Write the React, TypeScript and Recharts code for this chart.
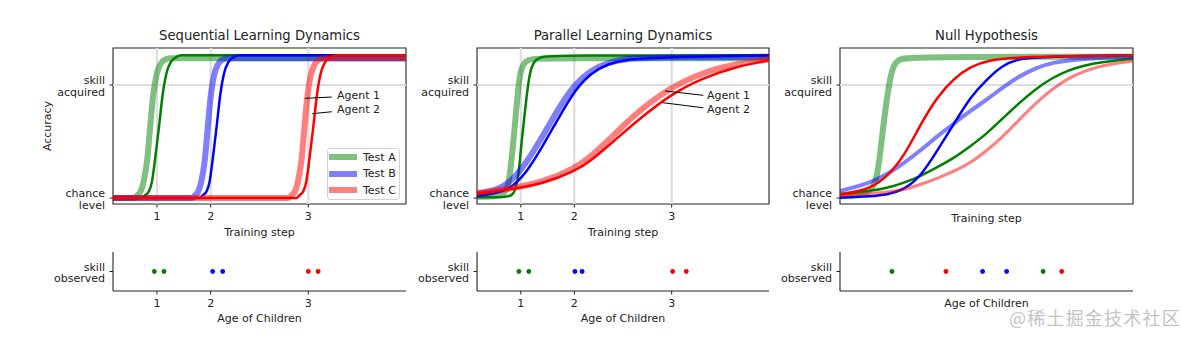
import React from 'react';
import { LineChart, Line, XAxis, YAxis, ReferenceLine, ReferenceArea, Legend, ScatterChart, Scatter } from 'recharts';

type Pt = [number, number];

// x runs over training steps 0..300, the age ticks sit at these steps
const stepTicks = [45, 100, 200];
const ageLabels = ['1', '2', '3'];
const accTicks = [0, 0.8];
const accLabels = [['chance', 'level'], ['skill', 'acquired']];
const obsLabels = ['skill', 'observed'];
const testNames = ['Test A', 'Test B', 'Test C'];

// Sequential learning (agent 1 = faded, agent 2 = solid)
const seqA1: Pt[] = [[0, 0], [22, 0], [25, 0.02], [28.5, 0.05], [31.5, 0.12], [35, 0.27], [38, 0.5], [41, 0.72], [44.5, 0.87], [48, 0.94], [52, 0.975], [58, 0.99], [300, 0.99]];
const seqA2: Pt[] = [[0, 0], [30, 0], [33, 0.02], [37, 0.05], [40, 0.12], [43, 0.27], [47, 0.5], [51, 0.74], [55, 0.89], [59, 0.96], [63, 0.99], [70, 1.01], [300, 1.01]];
const seqB1: Pt[] = [[0, 0], [81, 0], [84, 0.02], [87.5, 0.05], [90.5, 0.12], [94, 0.27], [97, 0.5], [100, 0.72], [103.5, 0.87], [107, 0.94], [111, 0.975], [117, 0.99], [300, 0.99]];
const seqB2: Pt[] = [[0, 0], [89, 0], [92, 0.02], [96, 0.05], [99, 0.12], [102, 0.27], [106, 0.5], [110, 0.74], [114, 0.89], [118, 0.96], [122, 0.99], [129, 1.01], [300, 1.01]];
const seqC1: Pt[] = [[0, 0], [180, 0], [183, 0.02], [186.5, 0.05], [189.5, 0.12], [193, 0.27], [196, 0.5], [199, 0.72], [202.5, 0.87], [206, 0.94], [210, 0.975], [216, 0.99], [300, 0.99]];
const seqC2: Pt[] = [[0, 0], [188, 0], [191, 0.02], [195, 0.05], [198, 0.12], [201, 0.27], [205, 0.5], [209, 0.74], [213, 0.89], [217, 0.96], [221, 0.99], [228, 1.01], [300, 1.01]];

// Parallel learning
const parA1: Pt[] = [[0, 0.01], [20, 0.01], [27, 0.03], [31, 0.06], [33, 0.13], [35, 0.24], [37, 0.37], [40, 0.6], [43, 0.83], [46, 0.93], [50, 0.97], [56, 0.985], [70, 0.99], [300, 0.99]];
const parA2: Pt[] = [[0, 0.005], [30, 0.005], [36, 0.02], [39, 0.05], [42, 0.13], [44, 0.26], [46, 0.41], [49, 0.6], [53, 0.84], [56, 0.93], [60, 0.98], [66, 1.0], [80, 1.01], [300, 1.01]];
const parB1: Pt[] = [[0, 0.03], [17, 0.05], [33, 0.1], [50, 0.24], [67, 0.43], [84, 0.64], [101, 0.81], [118, 0.91], [135, 0.96], [152, 0.985], [180, 0.995], [300, 1.0]];
const parB2: Pt[] = [[0, 0.014], [17, 0.03], [33, 0.06], [50, 0.17], [67, 0.36], [84, 0.57], [101, 0.77], [118, 0.89], [135, 0.95], [152, 0.98], [180, 0.995], [300, 1.01]];
const parC1: Pt[] = [[0, 0.035], [33, 0.065], [67, 0.11], [101, 0.21], [118, 0.3], [135, 0.41], [150, 0.51], [167, 0.62], [198, 0.78], [232, 0.89], [266, 0.95], [300, 0.98]];
const parC2: Pt[] = [[0, 0.035], [33, 0.06], [67, 0.1], [101, 0.19], [118, 0.27], [135, 0.37], [150, 0.46], [167, 0.56], [198, 0.73], [232, 0.85], [266, 0.93], [300, 0.975]];

// Null hypothesis
const nullA1: Pt[] = [[0, 0.02], [20, 0.03], [30, 0.05], [34, 0.08], [37, 0.13], [40, 0.25], [42, 0.37], [44, 0.49], [46, 0.6], [49, 0.75], [52, 0.87], [55, 0.94], [60, 0.98], [68, 1.0], [300, 1.0]];
const nullA2: Pt[] = [[0, 0.026], [25, 0.045], [49, 0.07], [66, 0.11], [83, 0.156], [100, 0.22], [117, 0.285], [134, 0.37], [151, 0.46], [166, 0.56], [183, 0.67], [200, 0.77], [217, 0.85], [234, 0.906], [251, 0.94], [268, 0.963], [300, 0.986]];
const nullB1: Pt[] = [[0, 0.05], [32, 0.11], [49, 0.17], [66, 0.25], [83, 0.34], [100, 0.44], [117, 0.53], [134, 0.62], [151, 0.7], [166, 0.78], [183, 0.86], [200, 0.92], [217, 0.96], [251, 0.99], [300, 1.0]];
const nullB2: Pt[] = [[0, 0.002], [32, 0.012], [49, 0.026], [66, 0.06], [83, 0.156], [100, 0.34], [117, 0.53], [134, 0.72], [149, 0.83], [166, 0.94], [183, 0.985], [200, 1.0], [300, 1.01]];
const nullC1: Pt[] = [[0, 0.02], [49, 0.04], [66, 0.06], [83, 0.097], [100, 0.14], [117, 0.19], [134, 0.25], [151, 0.34], [166, 0.43], [183, 0.55], [200, 0.67], [217, 0.77], [234, 0.85], [251, 0.9], [268, 0.94], [300, 0.97]];
const nullC2: Pt[] = [[0, 0.026], [16, 0.045], [32, 0.073], [49, 0.156], [66, 0.3], [83, 0.53], [100, 0.72], [117, 0.85], [134, 0.93], [151, 0.975], [183, 1.0], [300, 1.01]];

// age at which each skill is observed in children
const seqObsA = [42.3, 52.2];
const seqObsB = [102, 112.3];
const seqObsC = [200, 210];
const parObsA = [43, 53.2];
const parObsB = [100.6, 108];
const parObsC = [201, 215];
const nullObsA = [53.2, 208];
const nullObsB = [146, 170.6];
const nullObsC = [108.5, 227];

const GREEN = '#008000';
const BLUE = '#0000ff';
const RED = '#ff0000';
const INK = '#222';
const GRID = '#dedede';
const FONT = '"DejaVu Sans", sans-serif';
const X_DOMAIN: [number, number] = [0, 300];
const Y_DOMAIN: [number, number] = [-0.042, 1.062];
const AXW = 100;

const toXY = (pts: Pt[]) => pts.map(([x, y]) => ({ x, y }));

const faded = (pts: Pt[], color: string, width = 6) => ({ pts, color, width, opacity: 0.5 });
const solid = (pts: Pt[], color: string) => ({ pts, color, width: 2.5, opacity: 1 });

const seqSeries = [faded(seqA1, GREEN), solid(seqA2, GREEN), faded(seqB1, BLUE), solid(seqB2, BLUE), faded(seqC1, RED), solid(seqC2, RED)];
const parSeries = [faded(parA1, GREEN), solid(parA2, GREEN), faded(parB1, BLUE), solid(parB2, BLUE), faded(parC1, RED), solid(parC2, RED)];
const nullSeries = [faded(nullA1, GREEN), solid(nullA2, GREEN), faded(nullB1, BLUE, 4), solid(nullB2, BLUE), faded(nullC1, RED, 3), solid(nullC2, RED)];

const twoLineTick = (lines: (v: number) => string[]) => (p: any) => {
  const [a, b] = lines(p.payload.value);
  return (
    <text x={p.x} y={p.y} textAnchor="end" fontSize={11} fill={INK} fontFamily={FONT}>
      <tspan x={p.x} dy={-1}>{a}</tspan>
      <tspan x={p.x} dy={11.5}>{b}</tspan>
    </text>
  );
};
const accTick = twoLineTick((v) => accLabels[accTicks.indexOf(v)] || ['', '']);
const obsTick = twoLineTick(() => obsLabels);

const LegendBox = () => (
  <div style={{ width: 73, height: 52, border: '1px solid #d2d2d2', borderRadius: 3, background: 'rgba(255,255,255,0.85)', boxSizing: 'border-box', fontFamily: FONT, fontSize: 11, color: INK }}>
    {testNames.map((n, i) => (
      <div key={n} style={{ display: 'flex', alignItems: 'center', height: 16.5, paddingLeft: 1 }}>
        <svg width={28} height={8}>
          <line x1={0} y1={4} x2={28} y2={4} stroke={[GREEN, BLUE, RED][i]} strokeOpacity={0.5} strokeWidth={6} />
        </svg>
        <span style={{ marginLeft: 6 }}>{n}</span>
      </div>
    ))}
  </div>
);

type Seg = [number, number, number, number];

function CurvePanel(props: { boxLeft: number; boxWidth: number; series: any[]; ticks: boolean; labelOffset: number; curve: 'monotone' | 'basis'; segs?: Seg[]; legend?: boolean }) {
  const { boxLeft, boxWidth, series, ticks, labelOffset, curve, segs = [], legend } = props;
  return (
    <div style={{ position: 'absolute', left: boxLeft - AXW, top: 20 }}>
      <LineChart width={AXW + boxWidth + 6} height={224} margin={{ top: 28, right: 6, left: 0, bottom: 0 }}>
        <XAxis
          type="number" dataKey="x" domain={X_DOMAIN} allowDataOverflow
          ticks={stepTicks} interval={0}
          tickFormatter={(v: number) => ageLabels[stepTicks.indexOf(v)]}
          tick={ticks ? { fontSize: 11, fill: INK, fontFamily: FONT } : false}
          tickLine={ticks ? { stroke: INK } : false}
          tickSize={3.5} tickMargin={5} axisLine={false} height={40}
          label={{ value: 'Training step', position: 'insideBottom', offset: labelOffset, fontSize: 11, fill: INK, fontFamily: FONT }}
        />
        <YAxis
          type="number" domain={Y_DOMAIN} allowDataOverflow ticks={accTicks} interval={0}
          axisLine={false} tickLine={{ stroke: INK }} tickSize={3.5} tickMargin={4.5} width={AXW} tick={accTick}
        />
        <ReferenceLine y={0.8} stroke={GRID} strokeWidth={2.2} />
        {ticks && stepTicks.map((t) => <ReferenceLine key={t} x={t} stroke={GRID} strokeWidth={2.2} />)}
        {series.map((s, i) => (
          <Line
            key={i} data={toXY(s.pts)} dataKey="y" type={curve} dot={false} activeDot={false}
            stroke={s.color} strokeWidth={s.width} strokeOpacity={s.opacity} isAnimationActive={false}
          />
        ))}
        {segs.map((g, i) => (
          <ReferenceLine key={'s' + i} segment={[{ x: g[0], y: g[1] }, { x: g[2], y: g[3] }]} stroke="#000" strokeWidth={1} />
        ))}
        <ReferenceArea x1={X_DOMAIN[0]} x2={X_DOMAIN[1]} y1={Y_DOMAIN[0]} y2={Y_DOMAIN[1]} fill="none" stroke={INK} strokeWidth={1.1} />
        {legend && (
          <Legend
            layout="horizontal" verticalAlign="middle" align="center"
            content={() => <LegendBox />}
            wrapperStyle={{ left: 327 - boxLeft + AXW, top: 148 - 20, width: 73, height: 52 }}
          />
        )}
      </LineChart>
    </div>
  );
}

function DotPanel(props: { boxLeft: number; boxWidth: number; groups: { xs: number[]; color: string }[]; ticks: boolean; labelOffset: number }) {
  const { boxLeft, boxWidth, groups, ticks, labelOffset } = props;
  return (
    <div style={{ position: 'absolute', left: boxLeft - AXW, top: 247 }}>
      <ScatterChart width={AXW + boxWidth + 6} height={79} margin={{ top: 5, right: 6, left: 0, bottom: 0 }}>
        <XAxis
          type="number" dataKey="x" domain={X_DOMAIN} ticks={stepTicks} interval={0}
          tickFormatter={(v: number) => ageLabels[stepTicks.indexOf(v)]}
          tick={ticks ? { fontSize: 11, fill: INK, fontFamily: FONT } : false}
          tickLine={ticks ? { stroke: INK } : false}
          tickSize={3.5} tickMargin={4.5} axisLine={{ stroke: INK, strokeWidth: 1.1 }} height={35}
          label={{ value: 'Age of Children', position: 'insideBottom', offset: labelOffset, fontSize: 11, fill: INK, fontFamily: FONT }}
        />
        <YAxis
          type="number" dataKey="y" domain={[0, 2]} ticks={[1]} interval={0}
          axisLine={{ stroke: INK, strokeWidth: 1.1 }} tickLine={{ stroke: INK }} tickSize={3.5} tickMargin={4.5} width={AXW} tick={obsTick}
        />
        {groups.map((g, i) => (
          <Scatter
            key={i} data={g.xs.map((x) => ({ x, y: 1 }))} fill={g.color} isAnimationActive={false}
            shape={(p: any) => <circle cx={p.cx} cy={p.cy} r={2.4} fill={g.color} />}
          />
        ))}
      </ScatterChart>
    </div>
  );
}

const textStyle: React.CSSProperties = { position: 'absolute', fontFamily: FONT, color: INK, whiteSpace: 'nowrap' };

const Title = ({ cx, text }: { cx: number; text: string }) => (
  <div style={{ ...textStyle, left: cx - 150, width: 300, top: 28, fontSize: 13.2, lineHeight: '16px', textAlign: 'center' }}>{text}</div>
);
const Note = ({ x, cy, text }: { x: number; cy: number; text: string }) => (
  <div style={{ ...textStyle, left: x, top: cy - 7, fontSize: 11, lineHeight: '14px' }}>{text}</div>
);

export default function App() {
  return (
    <div style={{ position: 'absolute', left: 0, top: 0, width: 1181, height: 338, background: '#fff', overflow: 'hidden' }}>
      <Title cx={259.5} text="Sequential Learning Dynamics" />
      <Title cx={623} text="Parallel Learning Dynamics" />
      <Title cx={986.5} text="Null Hypothesis" />
      <div style={{ ...textStyle, left: 48, top: 126, fontSize: 11, lineHeight: '14px', transform: 'translate(-50%, -50%) rotate(-90deg)' }}>Accuracy</div>

      <CurvePanel
        boxLeft={113} boxWidth={293} series={seqSeries} ticks labelOffset={8} legend curve="monotone"
        segs={[[196.6, 0.706, 224, 0.715], [204, 0.597, 224, 0.611]]}
      />
      <CurvePanel
        boxLeft={477} boxWidth={292} series={parSeries} ticks labelOffset={8} curve="basis"
        segs={[[193.2, 0.758, 232.5, 0.727], [190.8, 0.675, 232.5, 0.639]]}
      />
      <CurvePanel boxLeft={840} boxWidth={293} series={nullSeries} ticks={false} labelOffset={22} curve="basis" />

      <Note x={337} cy={96} text="Agent 1" />
      <Note x={337} cy={110} text="Agent 2" />
      <Note x={707} cy={96} text="Agent 1" />
      <Note x={707} cy={109.5} text="Agent 2" />

      <DotPanel
        boxLeft={113} boxWidth={293} ticks labelOffset={4}
        groups={[{ xs: seqObsA, color: GREEN }, { xs: seqObsB, color: BLUE }, { xs: seqObsC, color: RED }]}
      />
      <DotPanel
        boxLeft={477} boxWidth={292} ticks labelOffset={4}
        groups={[{ xs: parObsA, color: GREEN }, { xs: parObsB, color: BLUE }, { xs: parObsC, color: RED }]}
      />
      <DotPanel
        boxLeft={840} boxWidth={293} ticks={false} labelOffset={19}
        groups={[{ xs: nullObsA, color: GREEN }, { xs: nullObsB, color: BLUE }, { xs: nullObsC, color: RED }]}
      />

      <div style={{ ...textStyle, left: 1009, top: 305, fontSize: 18, lineHeight: '24px', letterSpacing: 1.2, color: '#c4c4c4', fontFamily: '"Noto Sans CJK SC", sans-serif' }}>@稀土掘金技术社区</div>
    </div>
  );
}
